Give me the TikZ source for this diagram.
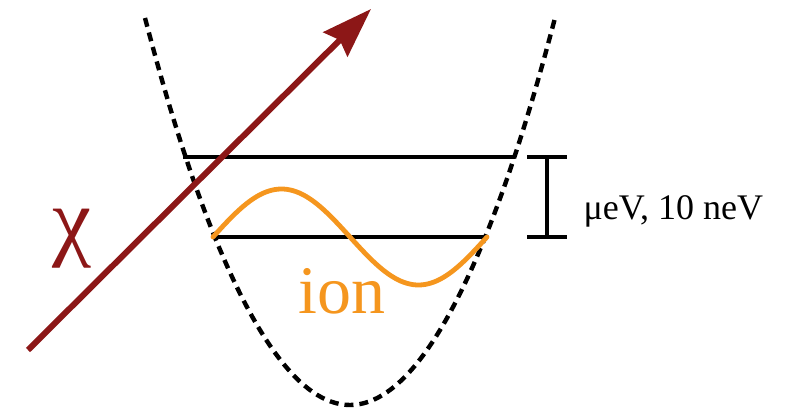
\documentclass[tikz,border=0pt]{standalone}
\usepackage{fontspec}
\setmainfont{Liberation Serif}
\usetikzlibrary{arrows.meta,positioning}
\definecolor{darkred}{HTML}{8C1717}
\definecolor{ionorange}{HTML}{F5961E}
\tikzset{wellcurve/.style={draw=black,line width=4.4pt,dash pattern=on 9pt off 6pt},levelline/.style={draw=black,line width=3.6pt},gapbar/.style={draw=black,line width=3.4pt},particle/.style={draw=darkred,line width=6pt,-{Stealth[length=50pt,width=34pt,inset=6pt]}},ionwave/.style={draw=ionorange,line width=4.8pt,line cap=round}}
\begin{document}
\begin{tikzpicture}[x=1pt,y=1pt]
\useasboundingbox (0,0) rectangle (787,410);
% trap potential
\draw[wellcurve] (145,392) parabola bend (350,5) (555,392);
% energy levels
\coordinate (upL) at (183,253); \coordinate (upR) at (515,253);
\coordinate (loL) at (213,173); \coordinate (loR) at (487,173);
\draw[levelline] (upL)--(upR);
\draw[levelline] (loL)--(loR);
% level spacing
\coordinate (gapT) at (547,253); \coordinate (gapB) at (547,173);
\draw[gapbar] (gapT)--(gapB);
\draw[gapbar] ([xshift=-20pt]gapT)--([xshift=20pt]gapT);
\draw[gapbar] ([xshift=-20pt]gapB)--([xshift=20pt]gapB);
\node[anchor=base west,font=\fontsize{36}{40}\selectfont] (gaplab) at (580,190) {μeV, 10 neV};
% ion wavefunction
\draw[ionwave,domain=0:274,samples=90] plot ({213+\x},{173+48*sin(\x/274*360)});
\node[anchor=base,text=ionorange,font=\fontsize{68}{72}\selectfont] (ionlab) at (342,97) {ion};
% incoming particle
\coordinate (chiS) at (28,60); \coordinate (chiE) at (371,401);
\draw[particle] (chiS)--(chiE);
\node[anchor=base,text=darkred,font=\fontsize{88}{90}\selectfont] (chilab) at (72,160) {χ};
\end{tikzpicture}
\end{document}
